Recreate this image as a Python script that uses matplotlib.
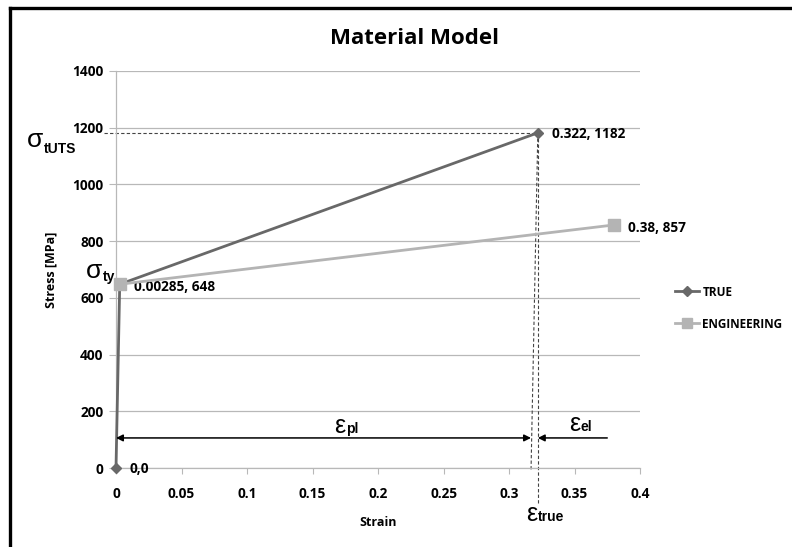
import matplotlib
matplotlib.use("Agg")
import matplotlib.pyplot as plt
from matplotlib.lines import Line2D

plt.rcParams['font.family'] = ['Open Sans', 'DejaVu Sans']

# ---- data ----
true_strain = [0.0, 0.00285, 0.322]
true_stress = [0, 648, 1182]
eng_strain = [0.00285, 0.38]
eng_stress = [648, 857]
true_labels = ["0,0", "0.00285, 648", "0.322, 1182"]
eng_labels = ["0.00285, 648", "0.38, 857"]
x_ticks = [0, 0.05, 0.1, 0.15, 0.2, 0.25, 0.3, 0.35, 0.4]
x_ticklabels = ["0", "0.05", "0.1", "0.15", "0.2", "0.25", "0.3", "0.35", "0.4"]
y_ticks = [0, 200, 400, 600, 800, 1000, 1200, 1400]

uts_strain, uts_stress = 0.322, 1182
E_mod = 648 / 0.00285
el_strain = uts_stress / E_mod
pl_strain = uts_strain - el_strain

W, H = 792, 547
fig = plt.figure(figsize=(W / 100, H / 100), dpi=100)

def px(x, y):
    return x / W, 1 - y / H

L, R, T, B = 116, 640, 71, 468
ax = fig.add_axes([L / W, 1 - B / H, (R - L) / W, (B - T) / H])
ax.set_xlim(0, 0.4)
ax.set_ylim(0, 1400)

dark = '#686868'
light = '#b4b4b4'
grid_c = '#b8b8b8'
fs = 9.8

ax.set_yticks(y_ticks)
ax.set_xticks(x_ticks)
ax.set_xticklabels(x_ticklabels)
ax.grid(axis='y', color=grid_c, lw=0.9)
ax.set_axisbelow(True)
for s in ['top', 'right']:
    ax.spines[s].set_visible(False)
for s in ['left', 'bottom']:
    ax.spines[s].set_color(grid_c)
    ax.spines[s].set_linewidth(0.9)
ax.tick_params(axis='x', direction='out', length=4, color=grid_c, pad=10,
               labelsize=fs)
ax.tick_params(axis='y', direction='out', length=5, color=grid_c, pad=4,
               labelsize=fs)
for lab in ax.get_xticklabels() + ax.get_yticklabels():
    lab.set_fontweight('bold')

# dashed construction lines
ax.plot([-0.009, uts_strain], [uts_stress, uts_stress], ls=(0, (3, 2)),
        color='#444444', lw=0.8, clip_on=False, zorder=1)
ax.plot([uts_strain, pl_strain], [uts_stress, -12], ls=(0, (3, 2)),
        color='#444444', lw=0.8, clip_on=False, zorder=1)
ax.plot([uts_strain, uts_strain], [uts_stress, -125], ls=(0, (3, 2)),
        color='#444444', lw=0.8, clip_on=False, zorder=1)

# series
ax.plot(true_strain, true_stress, color=dark, lw=2, marker='D', ms=5,
        label='TRUE', zorder=3, clip_on=False)
ax.plot(eng_strain, eng_stress, color=light, lw=2, marker='s', ms=8,
        label='ENGINEERING', zorder=4, clip_on=False)

# data labels
for x, y, t in zip(true_strain, true_stress, true_labels):
    if t in eng_labels:
        continue
    ax.annotate(t, (x, y), xytext=(10, -1), textcoords='offset points',
                va='center', ha='left', fontsize=fs, fontweight='bold')
for x, y, t in zip(eng_strain, eng_stress, eng_labels):
    ax.annotate(t, (x, y), xytext=(10, -2), textcoords='offset points',
                va='center', ha='left', fontsize=fs, fontweight='bold')

# arrows
arr_y = 106
ax.annotate('', xy=(pl_strain, arr_y), xytext=(0, arr_y),
            arrowprops=dict(arrowstyle='<|-|>', color='black', lw=1.1,
                            mutation_scale=10, shrinkA=0, shrinkB=0))
ax.annotate('', xy=(uts_strain, arr_y), xytext=(0.375, arr_y),
            arrowprops=dict(arrowstyle='-|>', color='black', lw=1.1,
                            mutation_scale=10, shrinkA=0, shrinkB=0))

greek = ['Liberation Sans', 'DejaVu Sans']
fig.canvas.draw()

def glabel(x, y, main, sub, size, subsize, dy=0):
    t = fig.text(*px(x, y), main, fontsize=size, family=greek, va='baseline',
                 ha='left')
    bb = t.get_window_extent(renderer=fig.canvas.get_renderer())
    fig.text(bb.x1 / W + 0.001, 1 - (y + dy) / H, sub, fontsize=subsize,
             family=greek, va='baseline', ha='left', fontweight='bold')

glabel(27, 147, 'σ', 'tUTS', 19, 10, dy=6)
glabel(86, 278, 'σ', 'ty', 19, 10, dy=3)
glabel(334, 433, 'ε', 'pl', 18, 10, dy=0)
glabel(569, 431, 'ε', 'el', 18, 10, dy=0)
glabel(526, 521, 'ε', 'true', 18, 10, dy=0)

# axis titles and title
fig.text(*px(415, 39), 'Material Model', fontsize=16, fontweight='bold',
         ha='center', va='center')
fig.text(*px(378, 522), 'Strain', fontsize=9, fontweight='bold',
         ha='center', va='center')
fig.text(*px(51, 270), 'Stress [MPa]', fontsize=9, fontweight='bold',
         ha='center', va='center', rotation=90)

# legend
handles = [Line2D([], [], color=dark, lw=2, marker='D', ms=5),
           Line2D([], [], color=light, lw=2, marker='s', ms=7)]
leg = fig.legend(handles, ['TRUE', 'ENGINEERING'], loc='upper left',
                 bbox_to_anchor=px(664, 275), frameon=False, fontsize=8.5,
                 handlelength=2.1, handletextpad=0.25, labelspacing=1.6)
for t in leg.get_texts():
    t.set_fontweight('bold')

# partial frame (left and top)
fig.add_artist(Line2D([10 / W, 10 / W], [0, 1 - 8 / H], color='black', lw=2.4))
fig.add_artist(Line2D([10 / W, 1], [1 - 8 / H, 1 - 8 / H], color='black', lw=2.4))

fig.savefig('out.png', dpi=100)
